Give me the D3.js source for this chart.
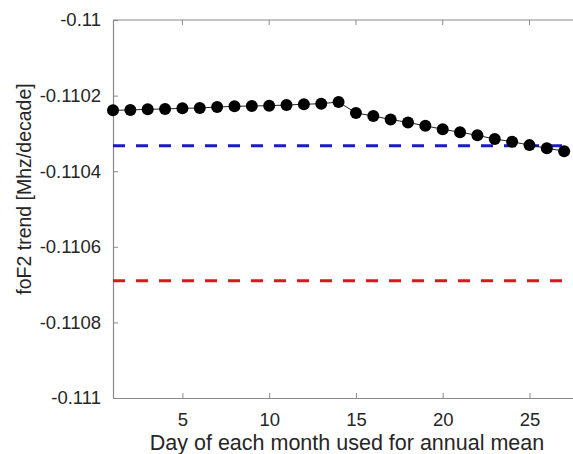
<!DOCTYPE html>
<html>
<head>
<meta charset="utf-8">
<script src="https://cdn.jsdelivr.net/npm/d3@7"></script>
<style>
  body { margin: 0; background: #fff; }
  text { font-family: "Liberation Sans", Arial, sans-serif; fill: #262626; }
</style>
</head>
<body>
<div id="chart"></div>
<script>
var width = 573,
    height = 454;

// data
var days = [1,2,3,4,5,6,7,8,9,10,11,12,13,14,15,16,17,18,19,20,21,22,23,24,25,26,27];
var trend = [-0.1102389,-0.1102381,-0.1102362,-0.1102354,-0.1102336,-0.1102328,-0.1102302,
             -0.1102283,-0.1102275,-0.1102267,-0.1102249,-0.1102230,-0.1102214,-0.1102169,
             -0.1102460,-0.1102540,-0.1102630,-0.1102710,-0.1102800,-0.1102890,-0.1102970,
             -0.1103050,-0.1103150,-0.1103220,-0.1103310,-0.1103390,-0.1103470];
var blueLevel = -0.110333;
var redLevel = -0.110690;
var xTicks = [5,10,15,20,25];
var yTicks = [-0.11,-0.1102,-0.1104,-0.1106,-0.1108,-0.111];

var plotLeft = 113, plotRight = 585, plotTop = 20, plotBottom = 398;

var x = d3.scaleLinear().domain([1, 28.2]).range([plotLeft, plotRight]);
var y = d3.scaleLinear().domain([-0.111, -0.11]).range([plotBottom, plotTop]);

var svg = d3.select("#chart").append("svg")
    .attr("width", width)
    .attr("height", height);

var axisColor = "#8a8a8a";

// top box line
svg.append("line").attr("x1", plotLeft).attr("x2", plotRight).attr("y1", plotTop).attr("y2", plotTop)
    .attr("stroke", axisColor).attr("stroke-width", 1.2);

var xAxis = svg.append("g")
    .attr("transform", "translate(0," + plotBottom + ")")
    .call(d3.axisBottom(x).tickValues(xTicks).tickSizeInner(-5).tickSizeOuter(0).tickPadding(15));
var yAxis = svg.append("g")
    .attr("transform", "translate(" + plotLeft + ",0)")
    .call(d3.axisLeft(y).tickValues(yTicks).tickSizeInner(-5).tickSizeOuter(0).tickPadding(12)
        .tickFormat(function(d){ return String(+d.toFixed(4)); }));

[xAxis, yAxis].forEach(function(a){
    a.select(".domain").attr("stroke", axisColor).attr("stroke-width", 1.2);
    a.selectAll(".tick line").attr("stroke", axisColor);
    a.selectAll(".tick text").attr("font-size", 18.5).attr("fill", "#262626")
        .attr("font-family", "Liberation Sans, Arial, sans-serif");
});

// top ticks
svg.selectAll(".topTick").data(xTicks).enter().append("line")
    .attr("x1", function(d){ return x(d); }).attr("x2", function(d){ return x(d); })
    .attr("y1", plotTop).attr("y2", plotTop + 5)
    .attr("stroke", axisColor);

// reference lines
svg.append("line")
    .attr("x1", x(1)).attr("x2", x(27))
    .attr("y1", y(blueLevel)).attr("y2", y(blueLevel))
    .attr("stroke", "#1a1ac8").attr("stroke-width", 3)
    .attr("stroke-dasharray", "12,11");
svg.append("line")
    .attr("x1", x(1)).attr("x2", x(27))
    .attr("y1", y(redLevel)).attr("y2", y(redLevel))
    .attr("stroke", "#d01c1c").attr("stroke-width", 3)
    .attr("stroke-dasharray", "12,11");

var pts = days.map(function(d, i){ return {day: d, v: trend[i]}; });

var line = d3.line()
    .x(function(d){ return x(d.day); })
    .y(function(d){ return y(d.v); });

svg.append("path")
    .datum(pts)
    .attr("d", line)
    .attr("fill", "none")
    .attr("stroke", "#222")
    .attr("stroke-width", 1);

svg.selectAll(".dot").data(pts).enter().append("circle")
    .attr("class", "dot")
    .attr("cx", function(d){ return x(d.day); })
    .attr("cy", function(d){ return y(d.v); })
    .attr("r", 6)
    .attr("fill", "#000");

// axis labels
svg.append("text")
    .attr("x", 347).attr("y", 450)
    .attr("text-anchor", "middle")
    .attr("font-size", 21.5)
    .text("Day of each month used for annual mean");

svg.append("text")
    .attr("transform", "translate(31,189) rotate(-90)")
    .attr("text-anchor", "middle")
    .attr("font-size", 19.5)
    .text("foF2 trend [Mhz/decade]");
</script>
</body>
</html>
